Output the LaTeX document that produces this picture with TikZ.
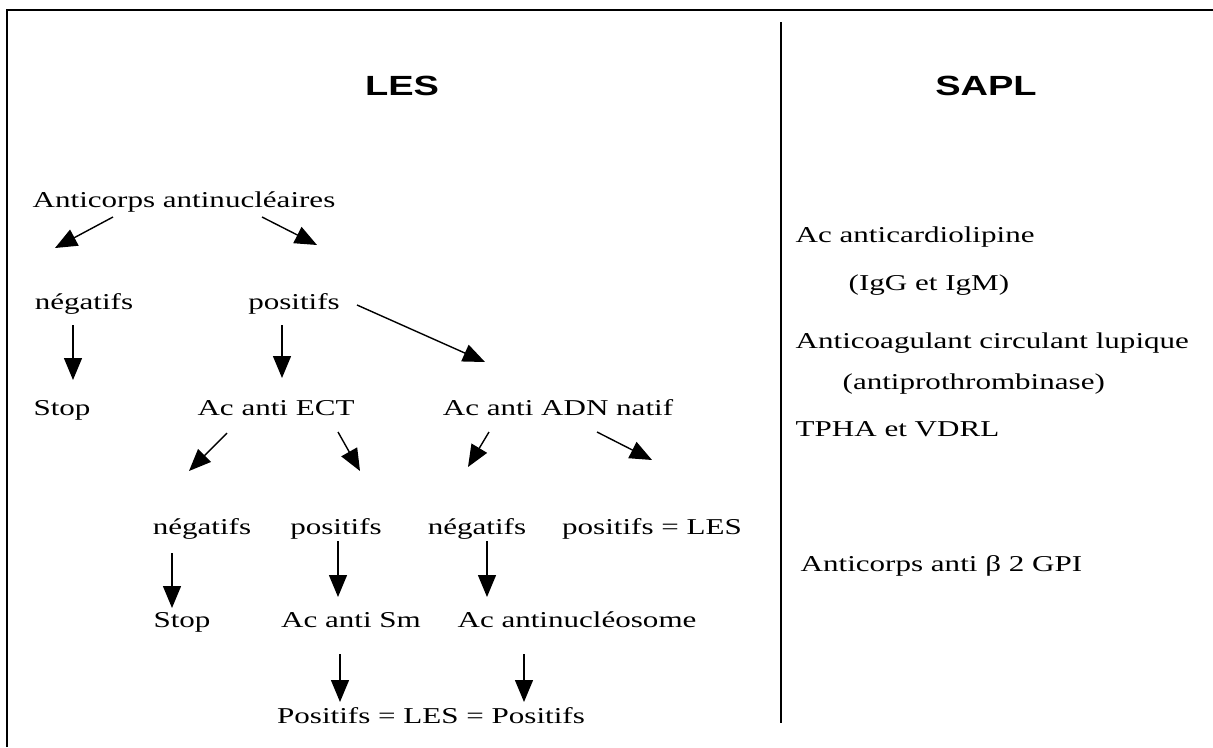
\documentclass[tikz,border=0pt]{standalone}
\usepackage{fontspec}
\setmainfont{Liberation Serif}[FakeStretch=1.37]
\newfontfamily\headfont{Liberation Sans}[FakeStretch=1.37]
\usepackage{xcolor}
\colorlet{colorFrame}{black}
\colorlet{colorArrow}{black}
\usepackage{tikz}
\usetikzlibrary{arrows.meta, positioning}
\tikzset{
  txt/.style={anchor=base, inner sep=0pt, font=\fontsize{12.9}{15}\selectfont},
  sapl/.style={anchor=base west, inner sep=0pt, font=\fontsize{12.9}{15}\selectfont},
  head/.style={anchor=base, inner sep=0pt, font=\headfont\bfseries\fontsize{15.8}{18}\selectfont},
}

\begin{document}
\begin{tikzpicture}[>={Triangle[length=4.4mm,width=3.6mm]}, x=0.02cm, y=-0.02cm, line width=0.8pt]
\useasboundingbox (0,0) rectangle (1213,747);
% frame and divider
\draw [colorFrame, line width=1.2pt] (7,747) -- (7,10) -- (1213,10);
\draw [colorFrame, line width=1.2pt] (781,22) -- (781,723);
% headings
\node[head] (les) at (402,95) {LES};
\node[head] (sapl) at (986,95) {SAPL};
% LES tree
\node[txt] (q1) at (184,207) {Anticorps antinucléaires};
\node[txt] (q2) at (84,309) {négatifs};
\node[txt] (q3) at (294,309) {positifs};
\node[txt] (q4) at (62,415) {Stop};
\node[txt] (q5) at (276,415) {Ac anti ECT};
\node[txt] (q6) at (558,415) {Ac anti ADN natif};
\node[txt] (q7) at (202,534) {négatifs};
\node[txt] (q8) at (336,534) {positifs};
\node[txt] (q9) at (477,534) {négatifs};
\node[txt] (q10) at (652,534) {positifs = LES};
\node[txt] (q11) at (182,627) {Stop};
\node[txt] (q12) at (351,627) {Ac anti Sm};
\node[txt] (q13) at (577,627) {Ac antinucléosome};
\node[txt] (q14) at (431,723) {Positifs = LES = Positifs};
\draw [->, colorArrow] ([shift={(-71,10)}]q1.base) -- ([shift={(-29,-61)}]q2.base);
\draw [->, colorArrow] ([shift={(78,10)}]q1.base) -- ([shift={(23,-64)}]q3.base);
\draw [->, colorArrow] ([shift={(-11,16)}]q2.base) -- ([shift={(11,-35)}]q4.base);
\draw [->, colorArrow] ([shift={(-12,16)}]q3.base) -- ([shift={(6,-37)}]q5.base);
\draw [->, colorArrow] ([shift={(63,-4)}]q3.base) -- ([shift={(-73,-53)}]q6.base);
\draw [->, colorArrow] ([shift={(-49,18)}]q5.base) -- ([shift={(-13,-63)}]q7.base);
\draw [->, colorArrow] ([shift={(62,17)}]q5.base) -- ([shift={(24,-63)}]q8.base);
\draw [->, colorArrow] ([shift={(-69,17)}]q6.base) -- ([shift={(-9,-67)}]q9.base);
\draw [->, colorArrow] ([shift={(39,17)}]q6.base) -- ([shift={(0,-74)}]q10.base);
\draw [->, colorArrow] ([shift={(-30,19)}]q7.base) -- ([shift={(-10,-19)}]q11.base);
\draw [->, colorArrow] ([shift={(2,7)}]q8.base) -- ([shift={(-13,-30)}]q12.base);
\draw [->, colorArrow] ([shift={(10,7)}]q9.base) -- ([shift={(-90,-30)}]q13.base);
\draw [->, colorArrow] ([shift={(-11,27)}]q12.base) -- ([shift={(-91,-21)}]q14.base);
\draw [->, colorArrow] ([shift={(-53,27)}]q13.base) -- ([shift={(93,-21)}]q14.base);
% SAPL list
\node[sapl] (s1) at (795,242) {Ac anticardiolipine};
\node[sapl] (s2) at (848,290) {(IgG et IgM)};
\node[sapl] (s3) at (795,348) {Anticoagulant circulant lupique};
\node[sapl] (s4) at (842,389) {(antiprothrombinase)};
\node[sapl] (s5) at (795,436) {TPHA et VDRL};
\node[sapl] (s6) at (800,571) {Anticorps anti β 2 GPI};
\end{tikzpicture}
\end{document}
